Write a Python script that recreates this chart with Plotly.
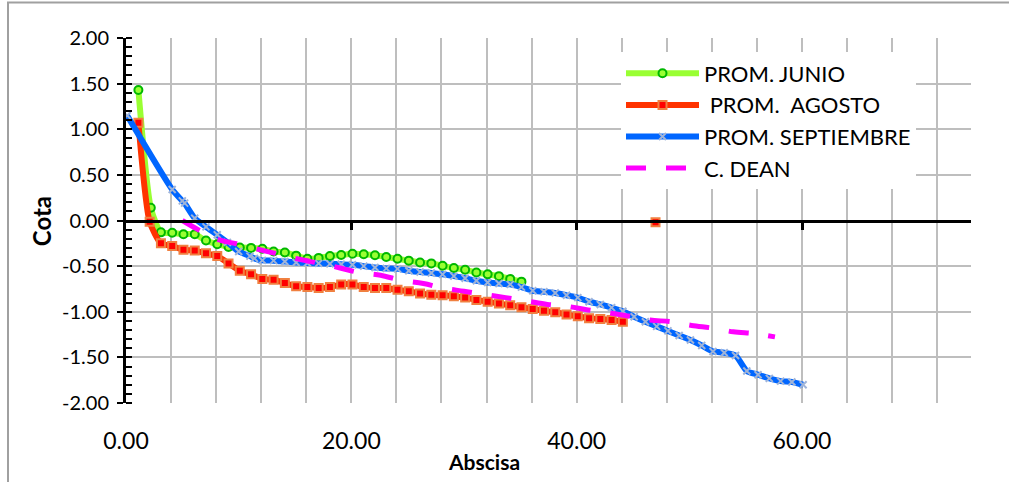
import plotly.graph_objects as go

# ---------------- data ----------------
junio_x = [1.1, 2.2, 3.1, 4.1, 5.1, 6.1, 7.1, 8.1, 9.1, 10.1, 11.1, 12.1, 13.1, 14.1, 15.1,
           16.1, 17.1, 18.1, 19.1, 20.1, 21.1, 22.1, 23.1, 24.1, 25.1, 26.1, 27.1, 28.1,
           29.1, 30.1, 31.1, 32.1, 33.1, 34.1, 35.1]
junio_y = [1.43, 0.14, -0.13, -0.135, -0.15, -0.15, -0.22, -0.26, -0.29, -0.295, -0.30,
           -0.31, -0.34, -0.35, -0.385, -0.42, -0.41, -0.39, -0.378, -0.365, -0.37, -0.38,
           -0.40, -0.42, -0.44, -0.46, -0.47, -0.495, -0.52, -0.54, -0.57, -0.59, -0.61,
           -0.64, -0.67]

agosto_x = [1.1, 2.1, 3.1, 4.1, 5.1, 6.1, 7.1, 8.1, 9.1, 10.1, 11.1, 12.1, 13.1, 14.1, 15.1,
            16.1, 17.1, 18.1, 19.1, 20.1, 21.1, 22.1, 23.1, 24.1, 25.1, 26.1, 27.1, 28.1,
            29.1, 30.1, 31.1, 32.1, 33.1, 34.1, 35.1, 36.1, 37.1, 38.1, 39.1, 40.1, 41.1,
            42.1, 43.1, 44.1, 45.5, 47.0]
agosto_y = [1.07, -0.015, -0.25, -0.28, -0.32, -0.33, -0.36, -0.39, -0.47, -0.55, -0.59,
            -0.64, -0.65, -0.685, -0.72, -0.73, -0.74, -0.73, -0.70, -0.70, -0.73, -0.74,
            -0.74, -0.76, -0.775, -0.80, -0.815, -0.82, -0.83, -0.845, -0.87, -0.89, -0.91,
            -0.93, -0.95, -0.97, -0.99, -1.005, -1.03, -1.05, -1.07, -1.08, -1.09, -1.11,
            None, -0.02]

sept_x = [0.1, 4.1, 5.0, 5.2, 6.1, 7.1, 8.1, 9.0, 10.0, 11.0, 11.4, 12.1, 13.1, 14.1, 15.1,
          16.1, 17.1, 18.1, 19.1, 20.1, 21.1, 22.1, 23.1, 24.1, 25.1, 26.1, 27.1, 28.1,
          29.1, 30.1, 31.1, 32.1, 33.1, 34.1, 35.1, 36.1, 37.1, 38.1, 39.1, 40.1, 41.1,
          42.1, 43.1, 44.1, 45.1, 46.1, 47.1, 48.1, 49.1, 50.1, 51.1, 52.1, 53.1, 54.1,
          55.1, 56.1, 57.1, 58.1, 59.1, 60.1]
sept_y = [1.15, 0.34, 0.215, 0.19, 0.025, -0.07, -0.157, -0.24, -0.34, -0.39, -0.415,
          -0.437, -0.44, -0.45, -0.46, -0.465, -0.47, -0.475, -0.48, -0.485, -0.50, -0.515,
          -0.525, -0.53, -0.55, -0.565, -0.575, -0.59, -0.61, -0.633, -0.66, -0.68, -0.69,
          -0.70, -0.73, -0.77, -0.78, -0.795, -0.82, -0.845, -0.89, -0.92, -0.955, -0.995,
          -1.055, -1.11, -1.16, -1.21, -1.26, -1.31, -1.37, -1.435, -1.45, -1.48, -1.65,
          -1.69, -1.73, -1.76, -1.77, -1.80]

dean_x = [5.0, 6.4, 8.2, 9.8, 11.9, 13.4, 15.4, 17.2, 19.0, 20.7, 22.6, 24.4, 26.4, 28.1,
          30.0, 31.8, 33.7, 35.5, 37.4, 39.1, 41.0, 42.8, 44.7, 46.5, 48.4, 50.2, 52.1,
          53.9, 55.8, 57.6]
dean_y = [0.0, -0.10, -0.21, -0.255, -0.32, -0.365, -0.425, -0.47, -0.52, -0.57, -0.60,
          -0.655, -0.69, -0.74, -0.775, -0.81, -0.845, -0.88, -0.92, -0.94, -0.98, -1.01,
          -1.05, -1.09, -1.11, -1.15, -1.18, -1.22, -1.24, -1.275]

x_ticks = [0, 20, 40, 60]
y_ticks = [2.0, 1.5, 1.0, 0.5, 0.0, -0.5, -1.0, -1.5, -2.0]

FONT = "Lato"

fig = go.Figure()

fig.add_trace(go.Scatter(
    x=junio_x, y=junio_y, name="PROM. JUNIO", mode="lines+markers",
    line=dict(color="#99FF33", width=6, shape="spline", smoothing=0.6),
    marker=dict(symbol="circle", size=8, color="#99FF33",
                line=dict(color="#00B800", width=2)),
))
fig.add_trace(go.Scatter(
    x=agosto_x, y=agosto_y, name=" PROM.  AGOSTO", mode="lines+markers",
    connectgaps=False,
    line=dict(color="#FF3300", width=6, shape="spline", smoothing=0.6),
    marker=dict(symbol="square", size=8, color="#FF0000",
                line=dict(color="#F08040", width=2)),
))
fig.add_trace(go.Scatter(
    x=sept_x, y=sept_y, name="PROM. SEPTIEMBRE", mode="lines+markers",
    line=dict(color="#0066FF", width=6, shape="spline", smoothing=0.6),
    marker=dict(symbol="x-thin", size=7, color="#A0B4D8",
                line=dict(color="#A0B4D8", width=2)),
))
fig.add_trace(go.Scatter(
    x=dean_x, y=dean_y, name="C. DEAN", mode="lines",
    line=dict(color="#FF00FF", width=5, shape="spline", dash="20px,20px"),
))

# axis along y = 0 with major ticks
fig.add_trace(go.Scatter(x=[0, 75], y=[None, None], xaxis="x2", showlegend=False,
                         hoverinfo="skip"))

L, R, T, B = 126, 38, 37.5, 79
W, H = 1009, 482
pw = W - L - R
ph = H - T - B

fig.update_layout(
    width=W, height=H,
    margin=dict(l=L, r=R, t=T, b=B, pad=0),
    paper_bgcolor="white", plot_bgcolor="white",
    font=dict(family=FONT, color="black"),
    showlegend=True,
    legend=dict(x=(621 - L) / pw, y=1 - (52 - T) / ph, xanchor="left", yanchor="top",
                bgcolor="white", borderwidth=0, font=dict(size=22, family=FONT),
                tracegroupgap=0, itemwidth=73, traceorder="normal"),
    xaxis=dict(range=[0, 75], tickvals=x_ticks, ticktext=[f"{v:.2f}" for v in x_ticks],
               showgrid=True, gridcolor="#BEBEBE", gridwidth=2,
               minor=dict(dtick=4, showgrid=True, gridcolor="#BEBEBE", gridwidth=2, tick0=0),
               showline=False, zeroline=False, ticks="",
               tickfont=dict(size=23, family=FONT), ticklabelstandoff=22),
    xaxis2=dict(range=[0, 75], overlaying="x", anchor="free", position=0.5, side="bottom",
                showline=True, linecolor="black", linewidth=3, ticks="outside",
                tickvals=[20, 40, 60], ticklen=7, tickwidth=3, tickcolor="black",
                showticklabels=False, showgrid=False, zeroline=False),
    yaxis=dict(range=[-2, 2], tickvals=y_ticks, ticktext=[f"{v:.2f}" for v in y_ticks],
               showgrid=True, gridcolor="#BEBEBE", gridwidth=2,
               zeroline=False,
               showline=True, linecolor="black", linewidth=3,
               ticks="outside", ticklen=6, tickwidth=2, tickcolor="black",
               minor=dict(dtick=0.1, tick0=0, ticks="inside", ticklen=6, tickwidth=2,
                          tickcolor="black", showgrid=False),
               tickfont=dict(size=20, family=FONT), ticklabelstandoff=4),
    annotations=[
        dict(text="<b>Cota</b>", xref="paper", yref="paper",
             x=(41 - L) / pw, y=1 - (221 - T) / ph, xanchor="center", yanchor="middle",
             textangle=-90, showarrow=False, font=dict(size=24, family=FONT)),
        dict(text="<b>Abscisa</b>", xref="paper", yref="paper",
             x=(484 - L) / pw, y=1 - (462 - T) / ph, xanchor="center", yanchor="middle",
             showarrow=False, font=dict(size=21, family=FONT)),
    ],
    shapes=[dict(type="rect", xref="paper", yref="paper",
                 x0=(8 - L) / pw, x1=(1030 - L) / pw,
                 y0=1 - (500 - T) / ph, y1=1 - (2 - T) / ph,
                 line=dict(color="#A0A0A0", width=2), fillcolor="rgba(0,0,0,0)",
                 layer="below")],
)

fig.write_html("out.html")
